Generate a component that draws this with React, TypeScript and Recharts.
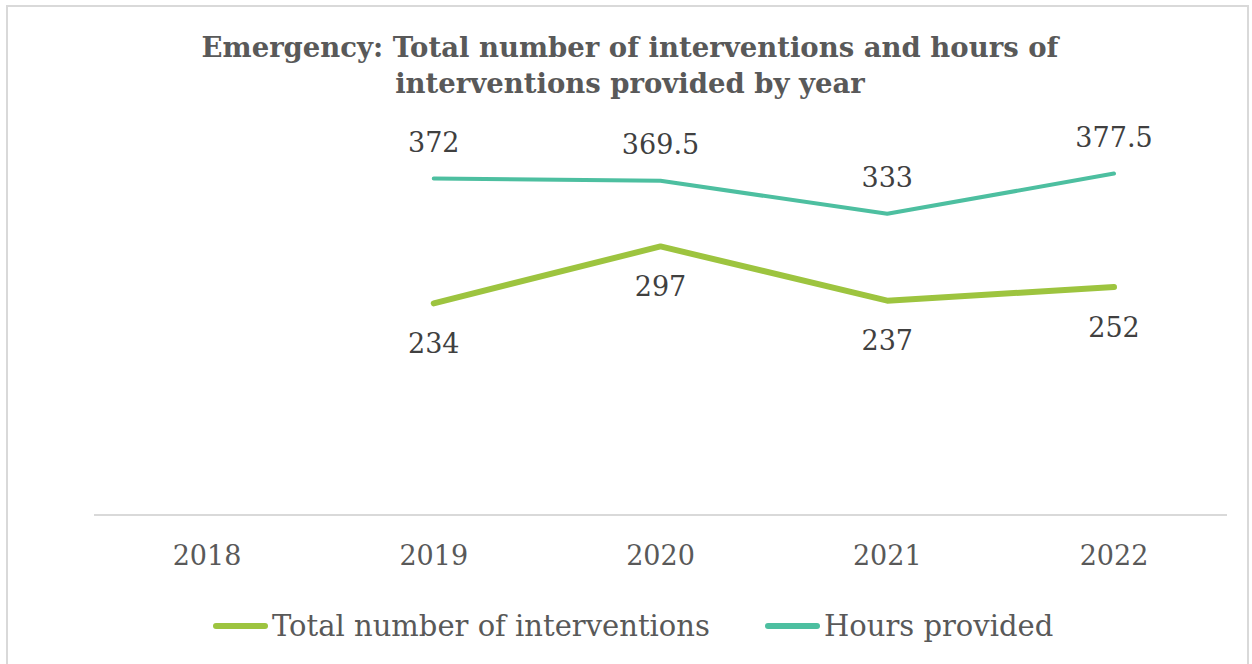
import { LineChart, Line, XAxis, YAxis, LabelList } from "recharts";

const years = ["2018", "2019", "2020", "2021", "2022"];
const interventions = [null, 234, 297, 237, 252];
const hours = [null, 372, 369.5, 333, 377.5];

const data = years.map((year, i) => ({
  year,
  interventions: interventions[i],
  hours: hours[i],
}));

const FONT = "'DejaVu Serif', serif";
const GREEN = "#9dc43f";
const TEAL = "#4dbfa0";

function labelAt(dy: number) {
  return (props: any) => {
    const { x, y, value } = props;
    if (value == null) return null;
    return (
      <text
        x={x}
        y={y + dy}
        textAnchor="middle"
        dominantBaseline="central"
        fontFamily={FONT}
        fontSize={27}
        fill="#404040"
      >
        {value}
      </text>
    );
  };
}

function YearTick(props: any) {
  const { x, y, payload } = props;
  return (
    <text
      x={x}
      y={y + 32}
      textAnchor="middle"
      dominantBaseline="central"
      fontFamily={FONT}
      fontSize={27}
      fill="#595959"
    >
      {payload.value}
    </text>
  );
}

const legendItems = [
  { name: "Total number of interventions", color: GREEN, left: 213 },
  { name: "Hours provided", color: TEAL, left: 765 },
];

export default function App() {
  return (
    <div
      style={{
        position: "absolute",
        left: 0,
        top: 0,
        width: 1252,
        height: 664,
        background: "#fff",
        overflow: "hidden",
      }}
    >
      <div
        style={{
          position: "absolute",
          left: 6,
          top: 5,
          width: 1243,
          height: 680,
          border: "2px solid #d9d9d9",
          boxSizing: "border-box",
        }}
      />
      <div
        style={{
          position: "absolute",
          left: 0,
          top: 29,
          width: 1260,
          textAlign: "center",
          fontFamily: FONT,
          fontWeight: "bold",
          fontSize: 27.5,
          lineHeight: "36px",
          color: "#595959",
        }}
      >
        Emergency: Total number of interventions and hours of
        <br />
        interventions provided by year
      </div>
      <LineChart
        width={1252}
        height={664}
        data={data}
        margin={{ top: 108, right: 25, bottom: 119, left: 94 }}
        style={{ position: "absolute", left: 0, top: 0 }}
      >
        <XAxis
          dataKey="year"
          axisLine={{ stroke: "#d9d9d9", strokeWidth: 2 }}
          tickLine={false}
          tick={<YearTick />}
          interval={0}
          height={30}
          padding={{ left: 113, right: 113 }}
        />
        <YAxis hide domain={[0, 450]} width={0} />
        <Line
          dataKey="interventions"
          name="Total number of interventions"
          stroke={GREEN}
          strokeWidth={6}
          strokeLinecap="round"
          strokeLinejoin="round"
          dot={false}
          isAnimationActive={false}
        >
          <LabelList dataKey="interventions" content={labelAt(40)} />
        </Line>
        <Line
          dataKey="hours"
          name="Hours provided"
          stroke={TEAL}
          strokeWidth={4}
          strokeLinecap="round"
          strokeLinejoin="round"
          dot={false}
          isAnimationActive={false}
        >
          <LabelList dataKey="hours" content={labelAt(-36)} />
        </Line>
      </LineChart>
      {legendItems.map((it) => (
        <div
          key={it.name}
          style={{
            position: "absolute",
            left: it.left,
            top: 606,
            height: 40,
            display: "flex",
            alignItems: "center",
            fontFamily: FONT,
            fontSize: 29,
            color: "#595959",
            whiteSpace: "nowrap",
          }}
        >
          <span
            style={{
              display: "inline-block",
              width: 55,
              height: 6,
              borderRadius: 3,
              background: it.color,
              marginRight: 4,
            }}
          />
          {it.name}
        </div>
      ))}
    </div>
  );
}
